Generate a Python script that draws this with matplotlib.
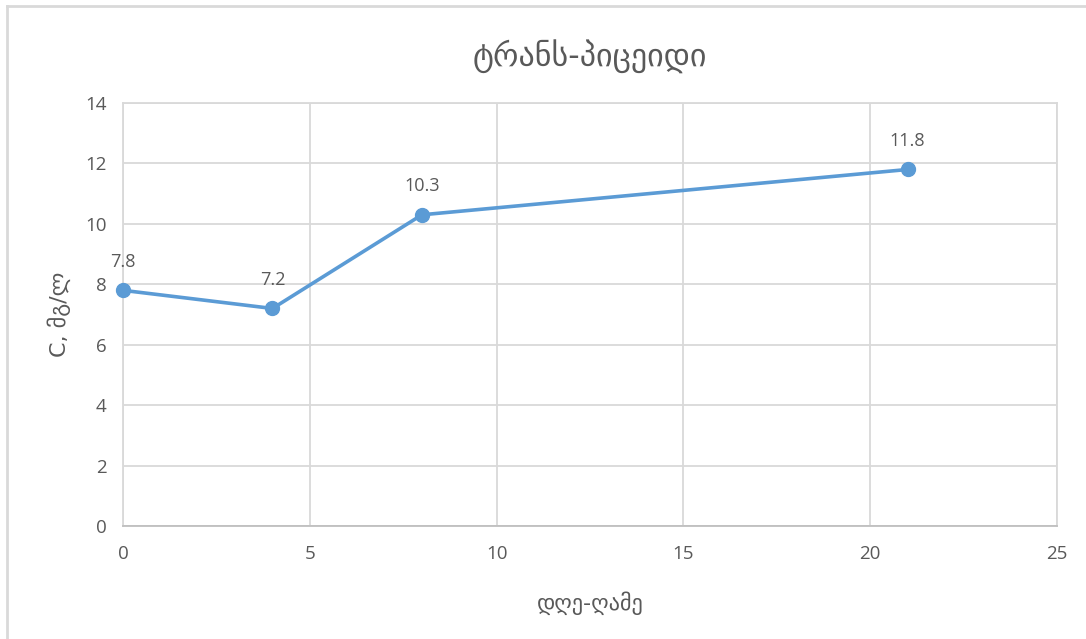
import matplotlib
matplotlib.use("Agg")
import matplotlib.pyplot as plt
from matplotlib.lines import Line2D

plt.rcParams['font.family'] = ['Open Sans', 'DejaVu Sans']

days = [0, 4, 8, 21]
conc = [7.8, 7.2, 10.3, 11.8]
labels = ["7.8", "7.2", "10.3", "11.8"]
x_ticks = [0, 5, 10, 15, 20, 25]
y_ticks = [0, 2, 4, 6, 8, 10, 12, 14]
title = "ტრანს-პიცეიდი"
x_label = "დღე-ღამე"
y_label = "C, მგ/ლ"

text_col = "#595959"
grid_col = "#D9D9D9"
line_col = "#5B9BD5"

W, H = 1086, 639
fig = plt.figure(figsize=(W / 100, H / 100), dpi=100)
ax = fig.add_axes([0.1133, 0.1768, 0.86, 0.662])

ax.plot(days, conc, color=line_col, lw=2.6, marker="o", ms=10,
        markerfacecolor=line_col, markeredgecolor=line_col, zorder=3, clip_on=False)
for x, y, s in zip(days, conc, labels):
    ax.annotate(s, (x, y), xytext=(0, 14), textcoords="offset points",
                ha="center", va="bottom", fontsize=13, color=text_col)

ax.set_xlim(0, 25)
ax.set_ylim(0, 14)
ax.set_xticks(x_ticks)
ax.set_yticks(y_ticks)
ax.grid(True, color=grid_col, lw=1.3)
ax.set_axisbelow(True)
for side in ["top", "right", "left", "bottom"]:
    ax.spines[side].set_color(grid_col)
    ax.spines[side].set_linewidth(1.3)
ax.spines["bottom"].set_color("#BFBFBF")
ax.tick_params(length=0, labelsize=13.5, colors=text_col)
ax.tick_params(axis="x", pad=14)
ax.tick_params(axis="y", pad=12)

ax.set_title(title, fontsize=23, color=text_col, pad=26, family="DejaVu Sans")
ax.set_xlabel(x_label, fontsize=16, color=text_col, labelpad=20, family="DejaVu Sans")
ax.set_ylabel(y_label, fontsize=16, color=text_col, labelpad=10, family="DejaVu Sans")

# chart frame (left and top edges visible)
fig.add_artist(Line2D([7 / W, 7 / W], [0, 1 - 6 / H], transform=fig.transFigure,
                      color="#D9D9D9", lw=2))
fig.add_artist(Line2D([7 / W, 1], [1 - 6 / H, 1 - 6 / H], transform=fig.transFigure,
                      color="#D9D9D9", lw=2))

fig.savefig("out.png", dpi=100)
